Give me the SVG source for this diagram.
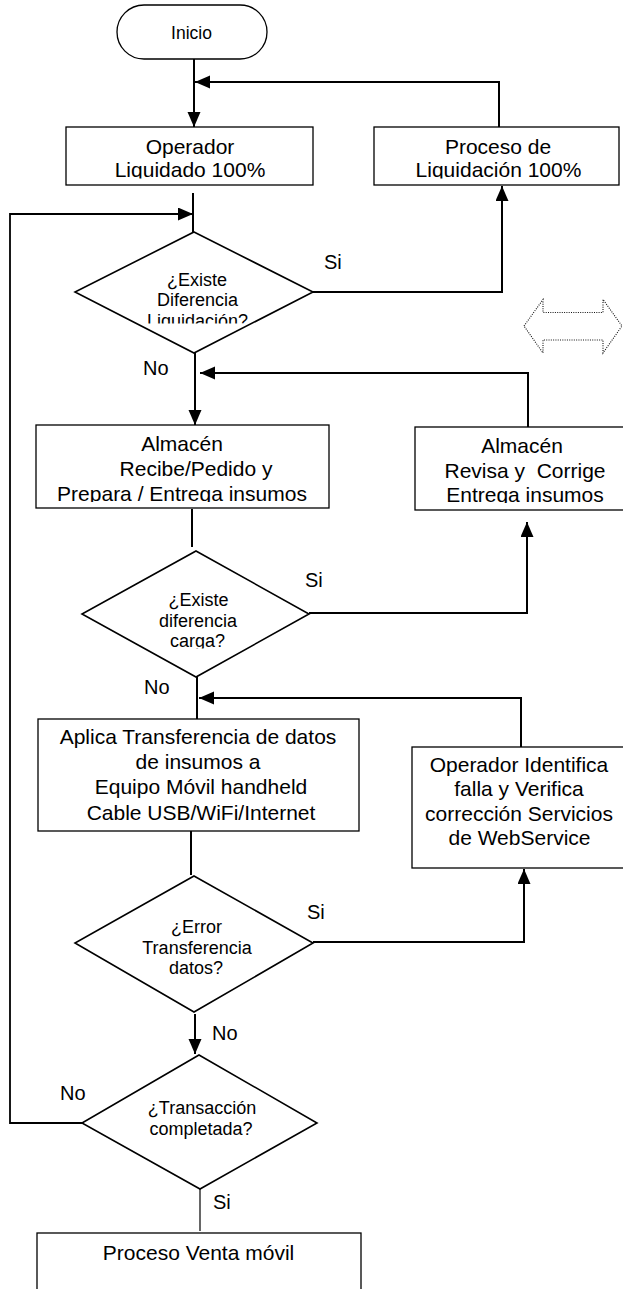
<svg xmlns="http://www.w3.org/2000/svg" width="623" height="1289" viewBox="0 0 623 1289">
  <style>
    .box { fill: #fff; stroke: #000; stroke-width: 1.3; }
    .dec { fill: #fff; stroke: #000; stroke-width: 1.6; }
    .txt { font-family: "Liberation Sans", Arial, sans-serif; font-size: 21px; fill: #000; text-anchor: middle; }
    .dtxt { font-family: "Liberation Sans", Arial, sans-serif; font-size: 18px; fill: #000; text-anchor: middle; }
    .lbl { font-family: "Liberation Sans", Arial, sans-serif; font-size: 20px; fill: #000; }
    .conn { fill: none; stroke: #000; stroke-width: 2; }
    .thin { fill: none; stroke: #000; stroke-width: 1.2; }
    .hint { fill: none; stroke: #111; stroke-width: 1.1; stroke-dasharray: 1 1.3; }
  </style>
  <defs>
    <marker id="arrow" markerUnits="userSpaceOnUse" markerWidth="16" markerHeight="14" refX="15" refY="6.5" orient="auto">
      <path d="M0,0 L15,6.5 L0,13 Z" fill="#000"/>
    </marker>
    <!-- text frames clip the descenders of their last line -->
    <clipPath id="clip-op"><rect x="66" y="127" width="247" height="51.5"/></clipPath>
    <clipPath id="clip-pl"><rect x="374" y="127" width="245" height="51.5"/></clipPath>
    <clipPath id="clip-d1"><rect x="75" y="232" width="238" height="91.5"/></clipPath>
    <clipPath id="clip-alm"><rect x="36" y="425" width="293" height="77"/></clipPath>
    <clipPath id="clip-rev"><rect x="415" y="427" width="208" height="76"/></clipPath>
    <clipPath id="clip-d2"><rect x="82" y="551" width="227" height="97.5"/></clipPath>
  </defs>

  <!-- connectors -->
  <g id="connectors">
    <path class="conn" d="M194,59 V127" marker-end="url(#arrow)"/>
    <path class="conn" d="M499,127 V82 H195" marker-end="url(#arrow)"/>
    <path class="conn" d="M193,193 V232"/>
    <path class="conn" style="stroke-width:1.8" d="M82,1123 H10 V214 H193" marker-end="url(#arrow)"/>
    <path class="conn" d="M313,292 H502 V186" marker-end="url(#arrow)"/>
    <path class="conn" d="M195,353 V425" marker-end="url(#arrow)"/>
    <path class="conn" d="M528,427 V373 H200" marker-end="url(#arrow)"/>
    <path class="conn" d="M192,509 V547"/>
    <path class="conn" d="M309,613 H527 V522" marker-end="url(#arrow)"/>
    <path class="conn" d="M197,677 V719"/>
    <path class="conn" d="M521,747 V698 H199" marker-end="url(#arrow)"/>
    <path class="conn" d="M191,831 V875"/>
    <path class="conn" d="M313,942 H524 V869" marker-end="url(#arrow)"/>
    <path class="conn" d="M195,1014 V1054" marker-end="url(#arrow)"/>
    <path class="thin" d="M200,1189 V1231"/>
  </g>

  <!-- branch labels -->
  <g id="labels">
    <text class="lbl" x="324" y="269">Si</text>
    <text class="lbl" x="143" y="375">No</text>
    <text class="lbl" x="305" y="587">Si</text>
    <text class="lbl" x="144" y="694">No</text>
    <text class="lbl" x="307" y="919">Si</text>
    <text class="lbl" x="212" y="1040">No</text>
    <text class="lbl" x="60" y="1100">No</text>
    <text class="lbl" x="213" y="1209">Si</text>
  </g>

  <g id="inicio">
    <rect x="117" y="5" width="150" height="54" rx="27" ry="27" class="box"/>
    <text class="txt" style="font-size:17.5px" x="191.5" y="39">Inicio</text>
  </g>

  <g id="operador">
    <rect x="66" y="127" width="247" height="58" class="box"/>
    <text class="txt" x="190" y="153.5">Operador</text>
    <text class="txt" x="190" y="177" clip-path="url(#clip-op)">Liquidado 100%</text>
  </g>

  <g id="proceso-liquidacion">
    <rect x="374" y="127" width="245" height="58" class="box"/>
    <text class="txt" x="498" y="153.5">Proceso de</text>
    <text class="txt" x="498.5" y="177" clip-path="url(#clip-pl)">Liquidación 100%</text>
  </g>

  <g id="dec-liquidacion">
    <polygon class="dec" points="194,232 313,292 194,353 75,292"/>
    <text class="dtxt" x="197" y="285.5">¿Existe</text>
    <text class="dtxt" x="197.5" y="306">Diferencia</text>
    <text class="dtxt" x="197.5" y="326.5" clip-path="url(#clip-d1)">Liquidación?</text>
  </g>

  <g id="double-arrow">
    <polygon class="hint" points="524,326 543,299.5 543,312.5 603,312.5 603,299.5 622,326 603,353 603,340 543,340 543,353"/>
  </g>

  <g id="almacen-entrega">
    <rect x="36" y="425" width="293" height="83" class="box"/>
    <text class="txt" x="182" y="451">Almacén</text>
    <text class="txt" x="196" y="476">Recibe/Pedido y</text>
    <text class="txt" x="182" y="500.5" clip-path="url(#clip-alm)">Prepara / Entrega insumos</text>
  </g>

  <g id="almacen-revisa">
    <rect x="415" y="427" width="210" height="83" class="box"/>
    <text class="txt" x="522" y="453">Almacén</text>
    <text class="txt" x="525" y="477.5" xml:space="preserve">Revisa y  Corrige</text>
    <text class="txt" x="525" y="501.5" clip-path="url(#clip-rev)">Entrega insumos</text>
  </g>

  <g id="dec-carga">
    <polygon class="dec" points="196,551 309,614 196,677 82,614"/>
    <text class="dtxt" x="198.5" y="606">¿Existe</text>
    <text class="dtxt" x="198" y="626.5">diferencia</text>
    <text class="dtxt" x="197.5" y="647" clip-path="url(#clip-d2)">carga?</text>
  </g>

  <g id="transferencia">
    <rect x="38" y="719" width="321" height="112" class="box"/>
    <text class="txt" x="198" y="743.5">Aplica Transferencia de datos</text>
    <text class="txt" x="198" y="768.5">de insumos a</text>
    <text class="txt" x="201" y="794">Equipo Móvil handheld</text>
    <text class="txt" x="201" y="819.5">Cable USB/WiFi/Internet</text>
  </g>

  <g id="operador-identifica">
    <rect x="412" y="747" width="213" height="121" class="box"/>
    <text class="txt" x="519" y="771.5">Operador Identifica</text>
    <text class="txt" x="519" y="796">falla y Verifica</text>
    <text class="txt" x="519" y="820.5">corrección Servicios</text>
    <text class="txt" x="519.5" y="845">de WebService</text>
  </g>

  <g id="dec-error">
    <polygon class="dec" points="194,876 313,943 194,1012 75,943"/>
    <text class="dtxt" x="196.5" y="933">¿Error</text>
    <text class="dtxt" x="197" y="953.5">Transferencia</text>
    <text class="dtxt" x="196" y="974">datos?</text>
  </g>

  <g id="dec-transaccion">
    <polygon class="dec" points="199,1055 317,1123 200,1189 82,1123"/>
    <text class="dtxt" x="202" y="1113.5">¿Transacción</text>
    <text class="dtxt" x="201" y="1135">completada?</text>
  </g>

  <g id="venta-movil">
    <rect x="37" y="1233" width="324" height="70" class="box"/>
    <text class="txt" x="198.5" y="1259.5">Proceso Venta móvil</text>
  </g>
</svg>
